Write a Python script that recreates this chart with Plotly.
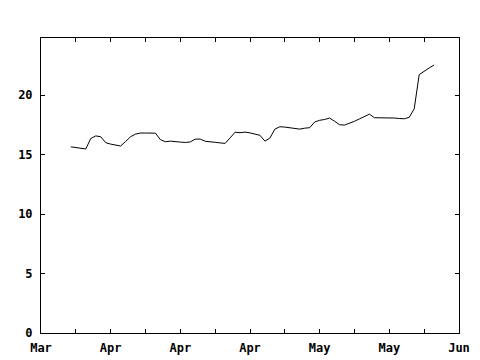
import plotly.graph_objects as go
import pandas as pd

start_date = "2024-03-24"
values = [
    15.65, 15.57, 15.53, 15.47, 16.35, 16.57, 16.50, 16.00, 15.88, 15.80,
    15.72, 16.10, 16.50, 16.72, 16.81, 16.81, 16.81, 16.80, 16.25, 16.08,
    16.13, 16.12, 16.05, 16.02, 16.06, 16.30, 16.30, 16.12, 16.05, 16.03,
    15.98, 15.94, 16.40, 16.88, 16.84, 16.89, 16.82, 16.75, 16.62, 16.13,
    16.39, 17.14, 17.34, 17.31, 17.24, 17.20, 17.14, 17.22, 17.26, 17.74,
    17.88, 17.95, 18.07, 17.80, 17.51, 17.48, 17.62, 17.80, 18.00, 18.20,
    18.40, 18.10, 18.10, 18.10, 18.10, 18.07, 18.03, 18.01, 18.13, 18.85,
    21.72, 22.02, 22.28, 22.53,
]
dates = pd.date_range(start_date, periods=len(values), freq="D")

x_range = ["2024-03-18", "2024-06-10"]
y_range = [0, 24.8]

tf = dict(family="DejaVu Sans Mono", size=12, color="black", weight="bold")

fig = go.Figure()
fig.add_trace(go.Scatter(x=dates, y=values, mode="lines",
                         line=dict(color="black", width=1), showlegend=False))

fig.update_layout(
    width=480, height=360,
    margin=dict(l=41, r=21, t=38, b=27, pad=0, autoexpand=False),
    paper_bgcolor="white", plot_bgcolor="white",
    font=dict(family="DejaVu Sans Mono", size=12, color="black"),
)
fig.update_xaxes(
    range=x_range, type="date", tick0="2024-03-18", dtick=14 * 86400000,
    tickformat="%b", ticks="inside", ticklen=4, tickcolor="black",
    showline=True, linecolor="black", linewidth=1, mirror="ticks",
    showgrid=False, zeroline=False, tickfont=tf, automargin=False,
    ticklabelstandoff=4,
    minor=dict(ticks="inside", ticklen=4, dtick=7 * 86400000, tick0="2024-03-18", tickcolor="black", showgrid=False),
)
fig.update_yaxes(
    range=y_range, dtick=5, tick0=0, ticks="inside", ticklen=4, tickcolor="black",
    showline=True, linecolor="black", linewidth=1, mirror="ticks",
    showgrid=False, zeroline=False, tickfont=tf, automargin=False,
    ticklabelstandoff=5,
)

fig.write_html("out.html")
